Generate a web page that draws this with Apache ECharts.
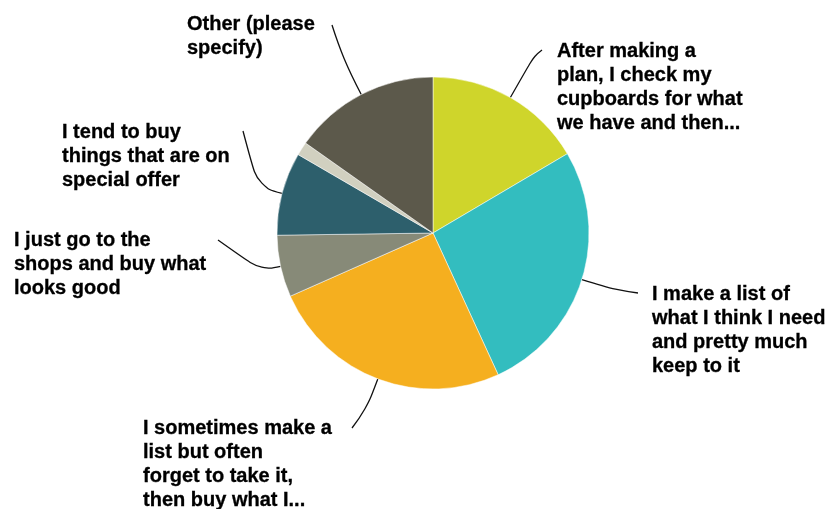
<!DOCTYPE html>
<html>
<head>
<meta charset="utf-8">
<script src="https://cdn.jsdelivr.net/npm/echarts@6/dist/echarts.min.js"></script>
<style>
  html, body { margin: 0; padding: 0; background: #ffffff; }
  #chart { width: 830px; height: 509px; }
</style>
</head>
<body>
<div id="chart"></div>
<script>
// Shopping habits: share of respondents per answer (percent)
const categories = [
  'After making a\nplan, I check my\ncupboards for what\nwe have and then...',
  'I make a list of\nwhat I think I need\nand pretty much\nkeep to it',
  'I sometimes make a\nlist but often\nforget to take it,\nthen buy what I...',
  'I just go to the\nshops and buy what\nlooks good',
  'I tend to buy\nthings that are on\nspecial offer',
  '',
  'Other (please\nspecify)'
];
const shares = [16.5, 26.6, 25.2, 6.4, 8.6, 1.4, 15.2];
const sliceColors = ['#cfd52b', '#33bdbf', '#f5af1f', '#878a78', '#2d5f6c', '#d1d0c0', '#5c594b'];

// Where each label sits (top-left of its text block), where its leader ends,
// and how far the leader runs outward from the rim before bending.
const labelSpots = [
  { x: 557, y: 39,  endX: 542, endY: 50,  reach: 48 },
  { x: 652, y: 282, endX: 638, endY: 293, reach: 35 },
  { x: 143, y: 416, endX: 352, endY: 428, reach: 33 },
  { x: 14,  y: 228, endX: 218, endY: 240, reach: 20 },
  { x: 62,  y: 120, endX: 243, endY: 131, reach: 25 },
  null,
  { x: 187, y: 12,  endX: 332, endY: 25,  reach: 40 }
];

const pieCenter = [433, 233];
const pieRadius = 156;

const chart = echarts.init(document.getElementById('chart'), null, { renderer: 'canvas' });

const seriesData = categories.map(function (name, i) {
  const item = {
    name: name,
    value: shares[i],
    itemStyle: { color: sliceColors[i] }
  };
  if (!labelSpots[i]) {
    item.label = { show: false };
    item.labelLine = { show: false };
  }
  return item;
});

chart.setOption({
  backgroundColor: '#ffffff',
  animation: false,
  series: [{
    type: 'pie',
    center: pieCenter,
    radius: pieRadius,
    startAngle: 90,
    clockwise: true,
    avoidLabelOverlap: false,
    data: seriesData,
    itemStyle: { borderColor: '#ffffff', borderWidth: 0.5 },
    label: {
      show: true,
      position: 'outside',
      formatter: '{b}',
      color: '#000000',
      textBorderColor: '#000000',
      textBorderWidth: 0.3,
      fontFamily: 'Liberation Sans, Arial, sans-serif',
      fontWeight: 'bold',
      fontSize: 20,
      lineHeight: 24
    },
    labelLine: {
      show: true,
      smooth: 0.45,
      length: 20,
      length2: 20,
      lineStyle: { color: '#111111', width: 1.3 }
    },
    labelLayout: function (params) {
      const spot = labelSpots[params.dataIndex];
      if (!spot) return {};
      // start of the leader on the rim, at the slice's middle angle
      let start;
      if (params.labelLinePoints && params.labelLinePoints[0]) {
        start = params.labelLinePoints[0];
      } else {
        const r = params.rect;
        start = [r.x + r.width / 2, r.y + r.height / 2];
      }
      const dx = start[0] - pieCenter[0];
      const dy = start[1] - pieCenter[1];
      const len = Math.sqrt(dx * dx + dy * dy) || 1;
      const bend = [start[0] + dx / len * spot.reach, start[1] + dy / len * spot.reach];
      return {
        x: spot.x,
        y: spot.y,
        align: 'left',
        verticalAlign: 'top',
        labelLinePoints: [start, bend, [spot.endX, spot.endY]]
      };
    }
  }]
});
</script>
</body>
</html>
